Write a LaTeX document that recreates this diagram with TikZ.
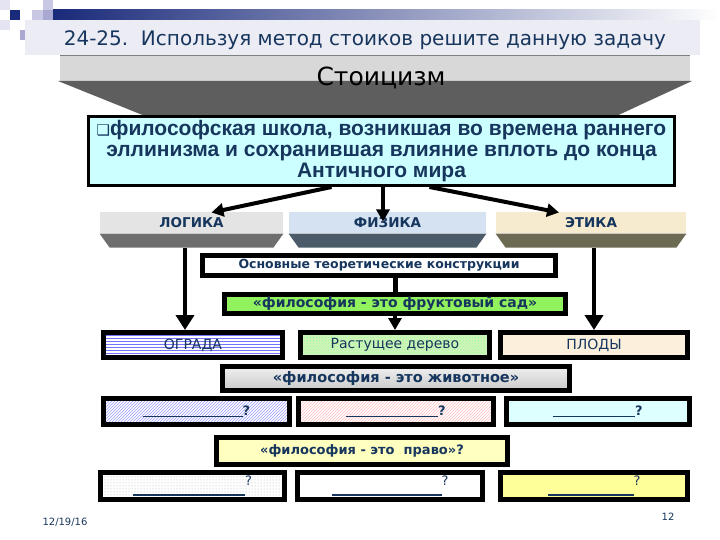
\documentclass[tikz,border=0pt]{standalone}
\usepackage{fontspec}
\setmainfont{DejaVu Sans}
\newfontfamily\arialfont{Liberation Sans}
\usetikzlibrary{arrows.meta, positioning, calc, patterns}
\definecolor{cnavy}{HTML}{1A2A7A}
\definecolor{clav}{HTML}{ECECF5}
\definecolor{csq}{HTML}{C8C8E4}
\definecolor{csqd}{HTML}{A8A8D2}
\definecolor{csql}{HTML}{E4E4F2}
\definecolor{ctext}{HTML}{17365D}
\definecolor{cstone}{HTML}{D8D8D8}
\definecolor{cslate}{HTML}{5E5E5E}
\definecolor{ccyan}{HTML}{CCFFFF}
\definecolor{clogic}{HTML}{E4E4E4}
\definecolor{clogicd}{HTML}{6E6E6E}
\definecolor{cphys}{HTML}{D4E2F2}
\definecolor{cphysd}{HTML}{4B5B69}
\definecolor{ceth}{HTML}{F7EBCF}
\definecolor{cethd}{HTML}{6C6A52}
\definecolor{cgarden}{HTML}{92F25E}
\definecolor{ctree}{HTML}{D2F4BC}
\definecolor{cfruit}{HTML}{FCF0DC}
\definecolor{cice}{HTML}{E2FFFF}
\definecolor{claw}{HTML}{FFFFC0}
\definecolor{clemon}{HTML}{FFFF99}
\newcommand{\blankq}[1]{{\color{ctext}\rule[-2pt]{#1}{1pt}}?}
\newcommand{\blanklow}[1]{{\color{ctext}\rule[-10pt]{#1}{1.5pt}}?}
\tikzset{
  every picture/.style={line width=1pt},
  headbox/.style={draw=black, line width=5pt, fill=#1, inner sep=0pt, text=ctext, font=\bfseries\fontsize{12.5}{14}\selectfont},
  headbox/.default=white,
  rowbox/.style={draw=black, line width=5pt, inner sep=0pt, text=ctext, font=\fontsize{14}{16}\selectfont},
  catbox/.style={fill=#1, inner sep=0pt, minimum height=21pt, text=ctext, font=\bfseries\fontsize{13.5}{15}\selectfont},
  arrow/.style={-{Triangle[length=12pt, width=13pt]}, line width=4pt},
  bigarrow/.style={-{Triangle[length=15pt, width=18pt]}, line width=4.5pt},
  note/.style={text=ctext, font=\fontsize{10}{12}\selectfont},
}
\begin{document}
\begin{tikzpicture}[x=1pt, y=-1pt]
  \useasboundingbox (0,0) rectangle (720,540);
  % top decoration
  \fill[csql] (0,0) rectangle (10,10);
  \fill[csql] (0,20) rectangle (10,30);
  \fill[csq] (43,0) rectangle (53,10);
  \fill[csq] (32,10) rectangle (43,20);
  \fill[csqd] (43,10) rectangle (53,20);
  \fill[csqd] (20,30) rectangle (25,40);
  \shade[left color=cnavy, right color=white] (53,10) rectangle (720,20);
  \fill[cnavy] (10,10) rectangle (20,20);
  \fill[clav] (25,20) rectangle (700,55);
  \node[anchor=west, text=ctext, font=\fontsize{20}{23}\selectfont] (title) at (60,40) {24-25.\ \ Используя метод стоиков решите данную задачу};
  % Stoicism banner
  \draw[gray, line width=1pt] (60,55.5) -- (690,55.5);
  \fill[cstone] (60,56) rectangle (690,81);
  \fill[cslate] (58,81) -- (692,81) -- (612,118) -- (150,118) -- cycle;
  \node[font=\fontsize{25}{28}\selectfont] (stoic) at (381,78) {Стоицизм};
  \node[draw=black, line width=3pt, fill=ccyan, minimum width=586pt, minimum height=69pt, inner sep=0pt, align=center, text=ctext, font=\arialfont\bfseries\fontsize{21}{21}\selectfont] (defbox) at (381.5,151)
    {{\normalfont\fontsize{15}{15}\selectfont ❑}философская школа, возникшая во времена раннего\\эллинизма и сохранившая влияние вплоть до конца\\Античного мира};
  % three parts
  \node[catbox=clogic, minimum width=183pt] (logic) at (191.5,222.5) {ЛОГИКА};
  \node[catbox=cphys, minimum width=197pt] (physics) at (387.5,222.5) {ФИЗИКА};
  \node[catbox=ceth, minimum width=190pt] (ethics) at (591,222.5) {ЭТИКА};
  \fill[clogicd] (logic.south west) -- (logic.south east) -- ++(-10,14) -- ($(logic.south west)+(10,14)$) -- cycle;
  \fill[cphysd] (physics.south west) -- (physics.south east) -- ++(-10,14) -- ($(physics.south west)+(10,14)$) -- cycle;
  \fill[cethd] (ethics.south west) -- (ethics.south east) -- ++(-10,14) -- ($(ethics.south west)+(10,14)$) -- cycle;
  \draw[arrow] ([xshift=-50pt]defbox.south) -- ([xshift=20pt, yshift=-1pt]logic.north);
  \draw[arrow] ([xshift=1.5pt]defbox.south) -- ([xshift=-4.5pt, yshift=-10pt]physics.north);
  \draw[arrow] ([xshift=48pt]defbox.south) -- ([xshift=-32pt, yshift=-1pt]ethics.north);
  % garden metaphor
  \node[headbox, minimum width=353pt, minimum height=20pt] (core) at (379,265.5) {Основные теоретические конструкции};
  \node[headbox=cgarden, minimum width=341pt, minimum height=19pt, font=\bfseries\fontsize{14}{16}\selectfont] (garden) at (395,304) {«философия - это фруктовый сад»};
  \node[rowbox, preaction={fill=white}, pattern=horizontal lines, pattern color=blue!55, minimum width=179pt, minimum height=25pt] (fence) at (193,345) {ОГРАДА};
  \node[rowbox, preaction={fill=ctree}, pattern=crosshatch dots, pattern color=green!45!white, minimum width=189pt, minimum height=25pt] (tree) at (395,345) {Растущее дерево};
  \node[rowbox, fill=cfruit, minimum width=187pt, minimum height=25pt] (fruit) at (594,345) {ПЛОДЫ};
  \draw[bigarrow] ([yshift=-14pt, xshift=-8pt]logic.south -| fence.north) -- ([xshift=-8pt]fence.north);
  \draw[bigarrow] ([yshift=-14pt]ethics.south -| fruit.north) -- (fruit.north);
  \draw[line width=5pt] (core.south -| garden.north) -- (garden.north);
  \draw[arrow] (garden.south) -- (tree.north);
  % animal metaphor
  \node[headbox, shade, top color=gray!12, bottom color=gray!42, minimum width=347pt, minimum height=24pt, font=\bfseries\fontsize{14.5}{16}\selectfont] (animal) at (396,378.5) {«философия - это животное»};
  \node[rowbox, preaction={fill=white}, pattern=north east lines, pattern color=blue!40, minimum width=186pt, minimum height=26pt, font=\bfseries\fontsize{13}{14}\selectfont] (beast1) at (196.5,411.5) {\blankq{100pt}};
  \node[rowbox, preaction={fill=white}, pattern=north east lines, pattern color=red!25, minimum width=195pt, minimum height=26pt, font=\bfseries\fontsize{13}{14}\selectfont] (beast2) at (396,411.5) {\blankq{92pt}};
  \node[rowbox, preaction={fill=cice}, pattern=crosshatch dots, pattern color=cyan!20, minimum width=183pt, minimum height=26pt, font=\bfseries\fontsize{13}{14}\selectfont] (beast3) at (598,411.5) {\blankq{82pt}};
  % law metaphor
  \node[headbox=claw, minimum width=291pt, minimum height=27pt, font=\bfseries\fontsize{13}{15}\selectfont] (law) at (362,451) {«философия - это\ \ право»?};
  \node[rowbox, preaction={fill=white}, pattern=dots, pattern color=gray!60, minimum width=184pt, minimum height=27pt, font=\fontsize{13}{14}\selectfont] (law1) at (192.5,486) {\blanklow{112pt}};
  \node[rowbox, fill=white, minimum width=185pt, minimum height=27pt, font=\fontsize{13}{14}\selectfont] (law2) at (390,486) {\blanklow{110pt}};
  \node[rowbox, fill=clemon, minimum width=187pt, minimum height=27pt, font=\fontsize{13}{14}\selectfont] (law3) at (594,486) {\blanklow{86pt}};
  % footer
  \node[note] (date) at (65,522) {12/19/16};
  \node[note] (page) at (668,517) {12};
\end{tikzpicture}
\end{document}
